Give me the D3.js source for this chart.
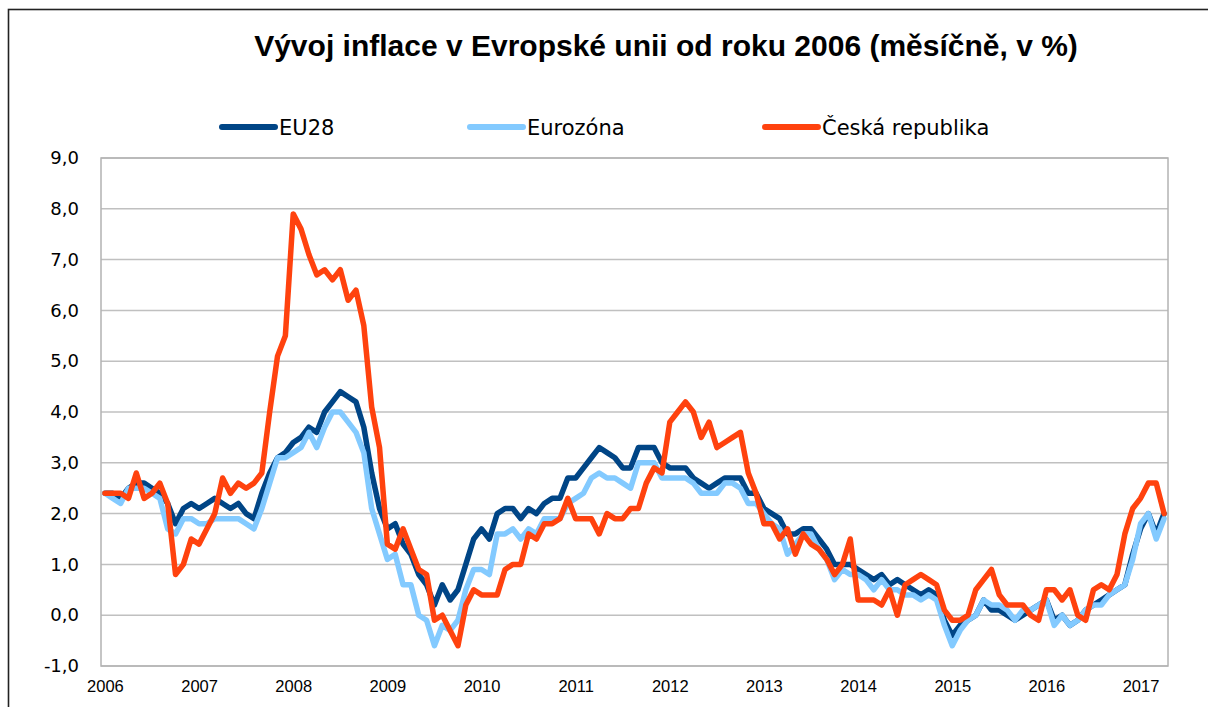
<!DOCTYPE html>
<html lang="cs">
<head>
<meta charset="UTF-8">
<title>Vývoj inflace v EU</title>
<script src="https://d3js.org/d3.v7.min.js"></script>
<style>
  body { margin: 0; background: #fff; }
</style>
</head>
<body>
<div id="chart"></div>
<script>
// monthly values, Jan 2006 .. Apr 2017
const startYear = 2006;
const yearLabels = ["2006","2007","2008","2009","2010","2011","2012","2013","2014","2015","2016","2017"];

const eu28 = [
  2.4, 2.4, 2.3, 2.5, 2.6, 2.6, 2.5, 2.4, 2.2, 1.8, 2.1, 2.2,
  2.1, 2.2, 2.3, 2.2, 2.1, 2.2, 2.0, 1.9, 2.4, 2.8, 3.1, 3.2,
  3.4, 3.5, 3.7, 3.6, 4.0, 4.2, 4.4, 4.3, 4.2, 3.7, 2.8, 2.1,
  1.7, 1.8, 1.4, 1.2, 0.8, 0.6, 0.2, 0.6, 0.3, 0.5, 1.0, 1.5,
  1.7, 1.5, 2.0, 2.1, 2.1, 1.9, 2.1, 2.0, 2.2, 2.3, 2.3, 2.7,
  2.7, 2.9, 3.1, 3.3, 3.2, 3.1, 2.9, 2.9, 3.3, 3.3, 3.3, 3.0,
  2.9, 2.9, 2.9, 2.7, 2.6, 2.5, 2.6, 2.7, 2.7, 2.7, 2.4, 2.4,
  2.1, 2.0, 1.9, 1.6, 1.6, 1.7, 1.7, 1.5, 1.3, 1.0, 1.0, 1.0,
  0.9, 0.8, 0.7, 0.8, 0.6, 0.7, 0.6, 0.5, 0.4, 0.5, 0.4, -0.1,
  -0.4, -0.2, -0.1, 0.0, 0.3, 0.1, 0.1, 0.0, -0.1, 0.0, 0.1, 0.2,
  0.3, -0.1, 0.0, -0.2, -0.1, 0.1, 0.2, 0.3, 0.4, 0.5, 0.6, 1.2,
  1.7, 2.0, 1.6, 2.0
];

const eurozona = [
  2.4, 2.3, 2.2, 2.5, 2.5, 2.5, 2.4, 2.3, 1.7, 1.6, 1.9, 1.9,
  1.8, 1.8, 1.9, 1.9, 1.9, 1.9, 1.8, 1.7, 2.1, 2.6, 3.1, 3.1,
  3.2, 3.3, 3.6, 3.3, 3.7, 4.0, 4.0, 3.8, 3.6, 3.2, 2.1, 1.6,
  1.1, 1.2, 0.6, 0.6, 0.0, -0.1, -0.6, -0.2, -0.3, -0.1, 0.5, 0.9,
  0.9, 0.8, 1.6, 1.6, 1.7, 1.5, 1.7, 1.6, 1.9, 1.9, 1.9, 2.2,
  2.3, 2.4, 2.7, 2.8, 2.7, 2.7, 2.6, 2.5, 3.0, 3.0, 3.0, 2.7,
  2.7, 2.7, 2.7, 2.6, 2.4, 2.4, 2.4, 2.6, 2.6, 2.5, 2.2, 2.2,
  2.0, 1.8, 1.7, 1.2, 1.4, 1.6, 1.6, 1.3, 1.1, 0.7, 0.9, 0.8,
  0.8, 0.7, 0.5, 0.7, 0.5, 0.5, 0.4, 0.4, 0.3, 0.4, 0.3, -0.2,
  -0.6, -0.3, -0.1, 0.0, 0.3, 0.2, 0.2, 0.1, -0.1, 0.1, 0.1, 0.2,
  0.3, -0.2, 0.0, -0.2, -0.1, 0.1, 0.2, 0.2, 0.4, 0.5, 0.6, 1.1,
  1.8, 2.0, 1.5, 1.9
];

const cesko = [
  2.4, 2.4, 2.4, 2.3, 2.8, 2.3, 2.4, 2.6, 2.2, 0.8, 1.0, 1.5,
  1.4, 1.7, 2.0, 2.7, 2.4, 2.6, 2.5, 2.6, 2.8, 4.0, 5.1, 5.5,
  7.9, 7.6, 7.1, 6.7, 6.8, 6.6, 6.8, 6.2, 6.4, 5.7, 4.1, 3.3,
  1.4, 1.3, 1.7, 1.3, 0.9, 0.8, -0.1, 0.0, -0.3, -0.6, 0.2, 0.5,
  0.4, 0.4, 0.4, 0.9, 1.0, 1.0, 1.6, 1.5, 1.8, 1.8, 1.9, 2.3,
  1.9, 1.9, 1.9, 1.6, 2.0, 1.9, 1.9, 2.1, 2.1, 2.6, 2.9, 2.8,
  3.8, 4.0, 4.2, 4.0, 3.5, 3.8, 3.3, 3.4, 3.5, 3.6, 2.8, 2.4,
  1.8, 1.8, 1.5, 1.7, 1.2, 1.6, 1.4, 1.3, 1.1, 0.8, 1.0, 1.5,
  0.3, 0.3, 0.3, 0.2, 0.5, 0.0, 0.6, 0.7, 0.8, 0.7, 0.6, 0.1,
  -0.1, -0.1, 0.0, 0.5, 0.7, 0.9, 0.4, 0.2, 0.2, 0.2, 0.0, -0.1,
  0.5, 0.5, 0.3, 0.5, 0.0, -0.1, 0.5, 0.6, 0.5, 0.8, 1.6, 2.1,
  2.3, 2.6, 2.6, 2.0
];

const yTicks = [-1, 0, 1, 2, 3, 4, 5, 6, 7, 8, 9];

const series = [
  { name: "EU28", values: eu28, color: "#004586" },
  { name: "Eurozóna", values: eurozona, color: "#83caff" },
  { name: "Česká republika", values: cesko, color: "#ff420e" }
];

// month index -> category
const months = d3.range(eu28.length);

const W = 1208, H = 707;
const plot = { left: 101, right: 1168, top: 158, bottom: 666 };

const svg = d3.select("#chart").append("svg")
  .attr("width", W)
  .attr("height", H);

// outer frame (cut off at right/bottom)
svg.append("rect")
  .attr("x", 8.5).attr("y", 9.5)
  .attr("width", W + 20).attr("height", H + 20)
  .attr("fill", "none")
  .attr("stroke", "#222")
  .attr("stroke-width", 1.6);

const x = d3.scalePoint()
  .domain(months)
  .range([plot.left, plot.right])
  .padding(0.5);

const y = d3.scaleLinear()
  .domain([-1, 9])
  .range([plot.bottom, plot.top]);

// gridlines
svg.append("g")
  .selectAll("line")
  .data(yTicks)
  .enter().append("line")
  .attr("x1", plot.left).attr("x2", plot.right)
  .attr("y1", d => y(d)).attr("y2", d => y(d))
  .attr("stroke", "#c0c0c0")
  .attr("stroke-width", 1.5);

// plot area border
svg.append("rect")
  .attr("x", plot.left).attr("y", plot.top)
  .attr("width", plot.right - plot.left)
  .attr("height", plot.bottom - plot.top)
  .attr("fill", "none")
  .attr("stroke", "#b3b3b3")
  .attr("stroke-width", 1.5);

// y axis
const yAxis = svg.append("g")
  .attr("transform", `translate(${plot.left},0)`)
  .call(d3.axisLeft(y)
    .tickValues(yTicks)
    .tickSize(0)
    .tickPadding(22)
    .tickFormat(d => d3.format(".1f")(d).replace(".", ",").replace("−", "-")));
yAxis.select(".domain").remove();
yAxis.selectAll("text")
  .attr("font-family", "DejaVu Sans, sans-serif")
  .attr("font-size", 18)
  .attr("fill", "#000");

// x axis, one label per January
const xAxis = svg.append("g")
  .attr("transform", `translate(0,${plot.bottom})`)
  .call(d3.axisBottom(x)
    .tickValues(yearLabels.map((d, i) => i * 12))
    .tickSize(0)
    .tickPadding(14)
    .tickFormat((d, i) => yearLabels[i]));
xAxis.select(".domain").remove();
xAxis.selectAll("text")
  .attr("font-family", "Liberation Sans, Arial, sans-serif")
  .attr("font-size", 16.5)
  .attr("fill", "#000");

// lines
const line = d3.line()
  .x((d, i) => x(i))
  .y(d => y(d));

series.forEach(s => {
  svg.append("path")
    .datum(s.values)
    .attr("fill", "none")
    .attr("stroke", s.color)
    .attr("stroke-width", 5.5)
    .attr("stroke-linejoin", "round")
    .attr("stroke-linecap", "round")
    .attr("d", line);
});

// title
svg.append("text")
  .attr("x", 666)
  .attr("y", 56)
  .attr("text-anchor", "middle")
  .attr("font-family", "Liberation Sans, Arial, sans-serif")
  .attr("font-weight", "bold")
  .attr("font-size", 30)
  .attr("fill", "#000")
  .text("Vývoj inflace v Evropské unii od roku 2006 (měsíčně, v %)");

// legend
const legendX = [222, 470, 765];
const legend = svg.append("g");
series.forEach((s, i) => {
  const g = legend.append("g").attr("transform", `translate(${legendX[i]},127)`);
  g.append("line")
    .attr("x1", 0).attr("x2", 53)
    .attr("y1", 0).attr("y2", 0)
    .attr("stroke", s.color)
    .attr("stroke-width", 6)
    .attr("stroke-linecap", "round");
  g.append("text")
    .attr("x", 57)
    .attr("y", 7.5)
    .attr("font-family", "DejaVu Sans, sans-serif")
    .attr("font-size", 21)
    .attr("fill", "#000")
    .text(s.name);
});
</script>
</body>
</html>
